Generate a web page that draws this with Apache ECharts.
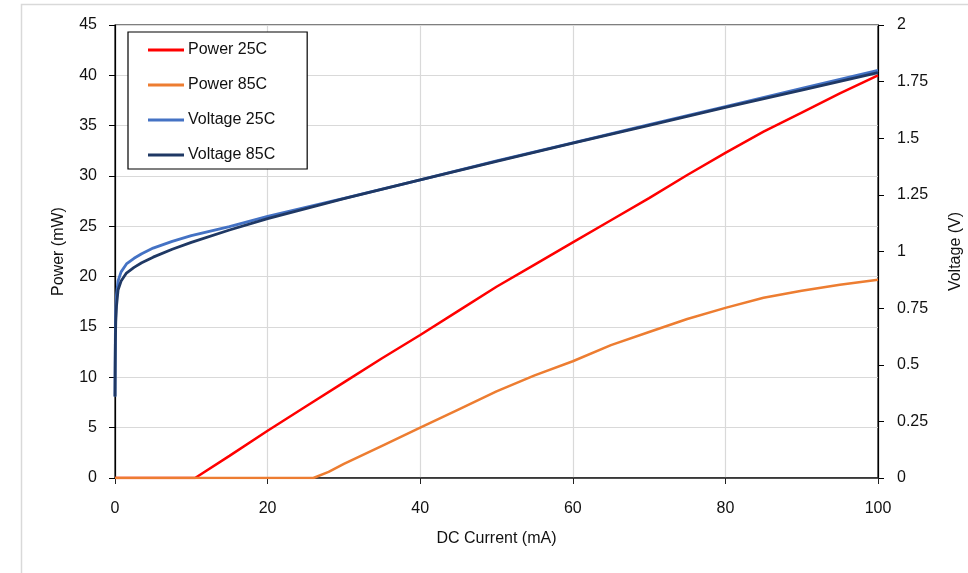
<!DOCTYPE html>
<html>
<head>
<meta charset="utf-8">
<script src="https://cdn.jsdelivr.net/npm/echarts@6/dist/echarts.min.js"></script>
<style>html,body{margin:0;padding:0;background:#fff;}#c{width:968px;height:573px;}</style>
</head>
<body>
<div id="c"></div>
<script>
// DC current (mA) sample points
const powerCurrent25 = [0, 8, 10.5, 15, 20, 25, 30, 35, 40, 45, 50, 55, 60, 65, 70, 75, 80, 85, 90, 95, 100];
const power25 = [0, 0, 0, 2.2, 4.7, 7.1, 9.5, 11.9, 14.2, 16.6, 19.0, 21.2, 23.4, 25.6, 27.8, 30.1, 32.3, 34.4, 36.3, 38.2, 40.0];
const powerCurrent85 = [0, 26, 28, 30, 35, 40, 45, 50, 55, 60, 65, 70, 75, 80, 85, 90, 95, 100];
const power85 = [0, 0, 0.6, 1.4, 3.2, 5.0, 6.8, 8.6, 10.2, 11.6, 13.2, 14.5, 15.8, 16.9, 17.9, 18.6, 19.2, 19.7];
const voltCurrent = [0, 0.02, 0.05, 0.1, 0.2, 0.4, 0.8, 1.5, 2.5, 3.5, 5, 7.5, 10, 15, 20, 30, 40, 50, 60, 70, 80, 90, 100];
const volt25 = [0.36, 0.5, 0.65, 0.74, 0.81, 0.87, 0.91, 0.945, 0.97, 0.99, 1.015, 1.045, 1.07, 1.11, 1.155, 1.235, 1.316, 1.40, 1.48, 1.56, 1.64, 1.72, 1.80];
const volt85 = [0.36, 0.48, 0.6, 0.69, 0.76, 0.83, 0.87, 0.905, 0.93, 0.95, 0.975, 1.01, 1.04, 1.095, 1.145, 1.233, 1.316, 1.398, 1.478, 1.557, 1.636, 1.712, 1.79];
const seriesNames = ['Power 25C', 'Power 85C', 'Voltage 25C', 'Voltage 85C'];
const xTicks = [0, 20, 40, 60, 80, 100];
const leftTicks = [0, 5, 10, 15, 20, 25, 30, 35, 40, 45];
const rightTicks = [0, 0.25, 0.5, 0.75, 1, 1.25, 1.5, 1.75, 2];

const pairs = (xs, ys) => xs.map((x, i) => [x, ys[i]]);
const font = 'Liberation Sans, Arial, sans-serif';
const lbl = {color: '#111', fontSize: 16, fontFamily: font};

const chart = echarts.init(document.getElementById('c'), null, {renderer: 'canvas'});
chart.setOption({
  backgroundColor: '#fff',
  animation: false,
  graphic: [{
    type: 'rect', shape: {x: 21.5, y: 4.5, width: 1200, height: 1200},
    style: {fill: null, stroke: '#d9d9d9', lineWidth: 1.5}, silent: true, z: -10
  }],
  grid: {left: 115, right: 90, top: 25, bottom: 95, containLabel: false, outerBoundsMode: 'none',
         show: true, borderColor: '#000', borderWidth: 1.2, backgroundColor: 'transparent'},
  legend: {
    orient: 'vertical', left: 128, top: 32,
    backgroundColor: '#fff', borderColor: '#000', borderWidth: 1.2,
    padding: [9, 32, 5, 20], itemGap: 17, itemWidth: 36, itemHeight: 3, icon: 'rect',
    textStyle: {color: '#111', fontSize: 16, fontFamily: font, lineHeight: 18, height: 18, padding: [0, 0, 0, -1]},
    data: seriesNames
  },
  xAxis: {
    type: 'value', min: xTicks[0], max: xTicks[xTicks.length - 1], interval: 20,
    name: 'DC Current (mA)', nameLocation: 'middle', nameGap: 53,
    nameTextStyle: {color: '#111', fontSize: 16, fontFamily: font},
    axisLine: {show: true, lineStyle: {color: '#222', width: 1.5}},
    axisTick: {show: true, length: 6, lineStyle: {color: '#222'}},
    axisLabel: Object.assign({margin: 23}, lbl),
    splitLine: {show: true, lineStyle: {color: '#d9d9d9', width: 1.2}}
  },
  yAxis: [{
    type: 'value', position: 'left', min: leftTicks[0], max: leftTicks[leftTicks.length - 1], interval: 5,
    name: 'Power (mW)', nameLocation: 'middle', nameGap: 48, nameRotate: 90,
    nameTextStyle: {color: '#111', fontSize: 16, fontFamily: font},
    axisLine: {show: true, lineStyle: {color: '#000', width: 1.2}},
    axisTick: {show: true, length: 6, lineStyle: {color: '#000'}},
    axisLabel: Object.assign({margin: 18}, lbl),
    splitLine: {show: true, lineStyle: {color: '#d9d9d9', width: 1.2}}
  }, {
    type: 'value', position: 'right', min: rightTicks[0], max: rightTicks[rightTicks.length - 1], interval: 0.25,
    name: 'Voltage (V)', nameLocation: 'middle', nameGap: 70, nameRotate: 90,
    nameTextStyle: {color: '#111', fontSize: 16, fontFamily: font},
    axisLine: {show: true, lineStyle: {color: '#000', width: 1.2}},
    axisTick: {show: true, length: 6, lineStyle: {color: '#000'}},
    axisLabel: Object.assign({margin: 19}, lbl),
    splitLine: {show: false}
  }],
  series: [
    {name: seriesNames[0], type: 'line', yAxisIndex: 0, data: pairs(powerCurrent25, power25), showSymbol: false, symbol: 'none',
     lineStyle: {color: '#ff0000', width: 2.5}, itemStyle: {color: '#ff0000'}, z: 2},
    {name: seriesNames[1], type: 'line', yAxisIndex: 0, data: pairs(powerCurrent85, power85), showSymbol: false, symbol: 'none',
     lineStyle: {color: '#ed7d31', width: 2.5}, itemStyle: {color: '#ed7d31'}, z: 3},
    {name: seriesNames[2], type: 'line', yAxisIndex: 1, data: pairs(voltCurrent, volt25), showSymbol: false, symbol: 'none',
     lineStyle: {color: '#4472c4', width: 2.8}, itemStyle: {color: '#4472c4'}, z: 4},
    {name: seriesNames[3], type: 'line', yAxisIndex: 1, data: pairs(voltCurrent, volt85), showSymbol: false, symbol: 'none',
     lineStyle: {color: '#1f3864', width: 2.8}, itemStyle: {color: '#1f3864'}, z: 5}
  ]
});
</script>
</body>
</html>
